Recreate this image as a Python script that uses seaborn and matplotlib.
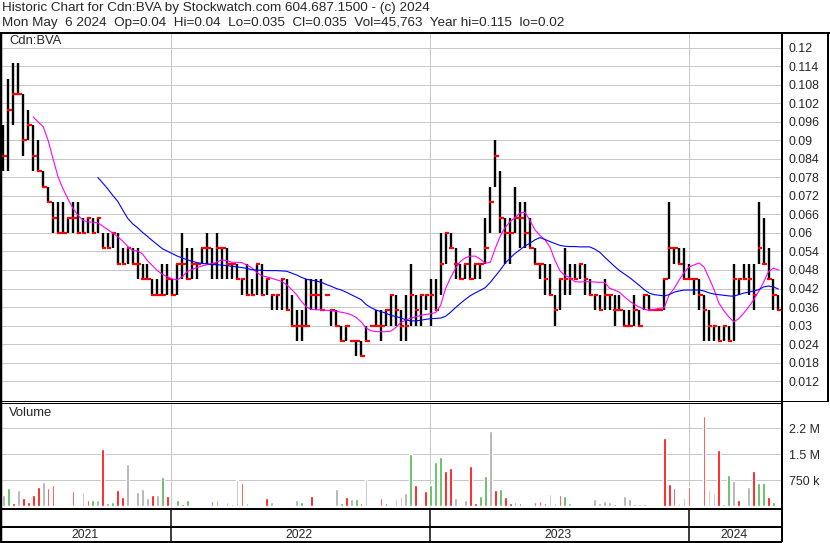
import numpy as np
import pandas as pd
import matplotlib
matplotlib.use("Agg")
import matplotlib.pyplot as plt
import matplotlib.dates as mdates
import seaborn as sns

# ---------------- data (weekly readings from the chart) ----------------
first_week = "2021-05-10"
n_weeks = 157

highs = [.095, .11, .115, .115, .105, .1, .095, .09, .08, .075,
         .07, .07, .07, .065, .07, .07, .065, .065, .065, .065,
         .06, .06, .06, .06, .055, .055, .055, .055, .05, .05,
         .045, .045, .05, .05, .045, .05, .06, .055, .055, .05,
         .055, .06, .055, .06, .055, .055, .05, .05, .045, .05,
         .045, .05, .05, .045, .04, .04, .045, .045, .04, .035,
         .035, .045, .045, .045, .045, .04, .035, .035, .03, .03,
         .025, .025, .025, .03, .03, .035, .035, .035, .04, .04,
         .035, .04, .05, .04, .04, .04, .045, .045, .06, .06,
         .06, .055, .05, .05, .055, .05, .05, .065, .075, .09,
         .08, .065, .065, .075, .07, .07, .065, .055, .05, .05,
         .05, .04, .045, .055, .05, .05, .05, .05, .045, .04,
         .04, .045, .04, .04, .04, .035, .035, .04, .035, .04,
         .04, .035, .035, .045, .07, .055, .055, .055, .05, .045,
         .045, .04, .035, .03, .03, .03, .03, .05, .045, .05,
         .05, .05, .07, .065, .055, .045, .04]
lows = [.08, .08, .095, .105, .085, .09, .08, .08, .075, .07,
        .06, .06, .06, .06, .06, .06, .06, .06, .06, .06,
        .055, .055, .055, .05, .05, .05, .05, .045, .045, .045,
        .04, .04, .04, .04, .04, .04, .045, .045, .045, .045,
        .05, .05, .045, .045, .045, .045, .045, .045, .04, .04,
        .04, .04, .04, .04, .035, .035, .035, .035, .03, .025,
        .025, .03, .035, .035, .035, .04, .03, .03, .025, .025,
        .025, .02, .02, .025, .03, .03, .025, .03, .03, .03,
        .025, .025, .03, .03, .03, .035, .03, .035, .04, .05,
        .055, .045, .045, .045, .045, .045, .045, .05, .06, .075,
        .06, .05, .05, .06, .055, .055, .055, .05, .045, .04,
        .04, .03, .035, .04, .04, .045, .045, .04, .04, .035,
        .035, .035, .035, .03, .035, .03, .03, .03, .03, .035,
        .035, .035, .035, .035, .045, .05, .05, .045, .045, .04,
        .035, .025, .025, .025, .025, .025, .025, .025, .04, .045,
        .04, .035, .05, .05, .045, .035, .035]
closes = [.085, .1, .105, .105, .09, .095, .085, .08, .075, .07,
          .065, .06, .06, .065, .065, .06, .06, .065, .06, .065,
          .055, .055, .06, .05, .05, .055, .05, .05, .045, .045,
          .04, .04, .04, .045, .04, .05, .05, .045, .05, .05,
          .055, .055, .05, .055, .055, .05, .05, .045, .045, .04,
          .04, .05, .04, .045, .04, .04, .045, .035, .03, .03,
          .03, .03, .04, .04, .035, .04, .035, .03, .025, .03,
          .025, .025, .02, .025, .03, .03, .03, .035, .04, .035,
          .03, .03, .04, .035, .04, .04, .04, .035, .05, .06,
          .055, .05, .045, .05, .045, .05, .05, .055, .07, .085,
          .065, .06, .06, .065, .065, .06, .055, .05, .05, .045,
          .04, .035, .045, .045, .045, .045, .05, .045, .04, .04,
          .035, .04, .04, .035, .035, .03, .03, .035, .03, .04,
          .035, .035, .035, .045, .055, .055, .05, .045, .045, .045,
          .04, .035, .03, .03, .025, .03, .025, .045, .045, .045,
          .045, .04, .055, .05, .045, .04, .035]

ma_short = [None] * 6 + [
    .0976, .096, .0945, .09, .084, .0782, .0743, .071, .068, .0658,
    .0641, .0636, .0635, .0633, .0622, .0611, .06, .0588, .0574, .0557,
    .0543, .0542, .0532, .051, .0494, .0478, .0466, .0458, .0451, .0448,
    .0458, .0475, .0482, .0488, .0493, .0497, .05, .0506, .0513, .051,
    .0505, .0505, .0504, .0496, .0487, .0472, .0461, .0458, .0453, .0448,
    .0443, .0432, .0417, .04, .0378, .036, .0352, .0351, .0351, .0349,
    .0348, .0346, .0343, .034, .0335, .0326, .0312, .0292, .0283, .028,
    .028, .028, .0282, .0294, .031, .0318, .0324, .0328, .0333, .0336,
    .0338, .0342, .0365, .042, .0455, .0485, .0508, .052, .0525, .0525,
    .0515, .0502, .0505, .055, .059, .0618, .0637, .065, .0665, .0667,
    .064, .061, .0592, .0578, .0555, .0512, .0478, .0462, .0456, .0442,
    .0441, .0442, .0442, .0441, .044, .044, .0421, .0415, .0408, .0393,
    .038, .0368, .036, .0353, .0348, .0352, .0356, .0357, .04, .042,
    .0447, .0472, .049, .0496, .0503, .049, .0455, .0418, .0373, .0348,
    .0328, .0312, .0322, .034, .036, .0383, .041, .044, .0475, .0486,
    .048]
ma_long = [None] * 19 + [
    .078, .0762, .0743, .0722, .0703, .0675, .0648, .063, .0617, .0602,
    .0589, .0575, .0562, .0549, .0541, .0533, .0525, .0519, .0513, .0508,
    .0504, .0501, .05, .0498, .0497, .0496, .0494, .0492, .049, .0488,
    .0485, .0481, .048, .0479, .0478, .0478, .0478, .0477, .0476, .047,
    .0464, .0456, .045, .0447, .0444, .044, .0433, .0427, .042, .0415,
    .0408, .04, .0392, .0384, .0368, .0358, .035, .0345, .034, .0333,
    .0329, .0325, .0318, .0315, .0315, .0317, .032, .0322, .0323, .0324,
    .033, .0343, .0358, .0372, .0385, .0397, .0406, .0414, .0423, .044,
    .046, .048, .0502, .0519, .0534, .0546, .0558, .0567, .0578, .0585,
    .0579, .0572, .0566, .056, .0557, .0556, .0556, .0555, .0555, .0555,
    .0548, .0538, .0522, .0507, .0492, .0478, .0467, .0456, .0443, .043,
    .0416, .0405, .04, .0398, .0396, .04, .0408, .0412, .0415, .0415,
    .0415, .0415, .0412, .0406, .0402, .04, .0398, .0396, .0395, .04,
    .0405, .0408, .0412, .0416, .0425, .0428, .0425, .0418]

# weekly peak daily volume (thousands) and day direction: r=down, g=up, n=unchanged
volume_k = [327, 520, 90, 470, 230, 135, 327, 548, 700, 520,
            615, 40, 20, 20, 450, 10, 413, 183, 183, 183,
            1650, 86, 135, 470, 280, 1220, 10, 420, 490, 250,
            327, 327, 850, 300, 10, 183, 60, 183, 20, 20,
            20, 20, 160, 183, 20, 135, 70, 750, 663, 86,
            20, 40, 20, 240, 135, 10, 10, 10, 10, 183,
            135, 20, 300, 10, 10, 10, 10, 500, 86, 270,
            200, 212, 86, 790, 10, 10, 240, 86, 10, 200,
            300, 395, 1510, 615, 10, 442, 615, 1290, 1410, 1030,
            1100, 230, 10, 183, 1160, 86, 300, 875, 2170, 470,
            490, 260, 86, 135, 86, 10, 10, 135, 160, 105,
            346, 86, 327, 308, 86, 10, 10, 10, 10, 212,
            86, 150, 135, 58, 10, 290, 212, 67, 58, 58,
            10, 10, 10, 1960, 645, 520, 86, 230, 548, 40,
            40, 2600, 470, 375, 1620, 67, 900, 740, 183, 40,
            567, 1020, 673, 663, 280, 135, 46]
volume_dir = list("ngrnrrrrnr" "rrgnrnnrgn" "rggrrnrnnn" "rngrngrgrr"
                  "ngrgnnrnrg" "rrnrnngnrn" "grrgrgrngr" "ngrnrrrrnn"
                  "nngrgrgggr" "rnrnrrggnr" "grrgrrnrrr" "nnrgnngrnn"
                  "nnngnnngng" "nrnrrrnnrg" "rrnnrggnrn" "nrggrgr")

price_ticks = [0.012, 0.018, 0.024, 0.03, 0.036, 0.042, 0.048, 0.054, 0.06,
               0.066, 0.072, 0.078, 0.084, 0.09, 0.096, 0.102, 0.108, 0.114, 0.12]
price_tick_labels = ["0.012", "0.018", "0.024", "0.03", "0.036", "0.042", "0.048",
                     "0.054", "0.06", "0.066", "0.072", "0.078", "0.084", "0.09",
                     "0.096", "0.102", "0.108", "0.114", "0.12"]
vol_ticks = [750000, 1500000, 2250000]
vol_tick_labels = ["750 k", "1.5 M", "2.2 M"]
years = ["2021", "2022", "2023", "2024"]
year_starts = ["2022-01-01", "2023-01-01", "2024-01-01"]

title1 = "Historic Chart for Cdn:BVA by Stockwatch.com 604.687.1500 - (c) 2024"
title2 = ("Mon May  6 2024  Op=0.04  Hi=0.04  Lo=0.035  Cl=0.035  Vol=45,763  "
          "Year hi=0.115  lo=0.02")

# ---------------- build frames ----------------
dates = pd.date_range(first_week, periods=n_weeks, freq="7D")
df = pd.DataFrame({"date": dates, "high": highs, "low": lows, "close": closes,
                   "ma_s": np.array([np.nan if v is None else v for v in ma_short]),
                   "ma_l": np.array([np.nan if v is None else v for v in ma_long]),
                   "vol": np.array(volume_k) * 1000.0, "dir": volume_dir})

sns.set_style("white")
plt.rcParams["font.family"] = ["Liberation Sans", "DejaVu Sans"]

W, H = 830, 543
fig = plt.figure(figsize=(W / 100, H / 100), dpi=100)
fig.patch.set_facecolor("white")
PX = 0.72  # points per pixel


def ax_px(x0, y0, x1, y1):
    return fig.add_axes([x0 / W, 1 - y1 / H, (x1 - x0) / W, (y1 - y0) / H])


def fline(xs, ys, lw=1.0, color="black"):
    fig.add_artist(plt.Line2D([x / W for x in xs], [1 - y / H for y in ys],
                              transform=fig.transFigure, color=color,
                              lw=lw * PX, solid_capstyle="butt"))


xlim = (mdates.date2num(pd.Timestamp("2021-05-08")),
        mdates.date2num(pd.Timestamp("2024-05-11")))
xnum = mdates.date2num(df["date"])
ybound = [mdates.date2num(pd.Timestamp(d)) for d in year_starts]
grid_c = "#c8c8c8"

# price panel
ax = ax_px(2, 33, 782, 400)
ax.set_xlim(*xlim)
ax.set_ylim(0.00584, 0.12486)
ax.set_yticks(price_ticks)
ax.set_yticklabels(price_tick_labels)
ax.yaxis.tick_right()
ax.tick_params(axis="y", length=0, pad=5, labelsize=8.9)
ax.set_xticks(ybound)
ax.tick_params(axis="x", length=0, labelbottom=False)
ax.grid(True, color=grid_c, lw=1.0 * PX)
for s in ax.spines.values():
    s.set_visible(False)

ax.vlines(xnum, df["low"], df["high"], colors="black", lw=1.7, zorder=3)
ax.hlines(df["close"], xnum - 1.5, xnum + 5.0, colors="red", lw=1.6, zorder=4)
sns.lineplot(x=xnum, y=df["ma_s"], ax=ax, color="#ff00ff", lw=0.8, zorder=5)
sns.lineplot(x=xnum, y=df["ma_l"], ax=ax, color="#0000ff", lw=0.8, zorder=5)
ax.set_xlim(*xlim)
ax.set_ylim(0.00584, 0.12486)
ax.set_xlabel("")
ax.set_ylabel("")
ax.text(7 / 780, 1 - 8 / 367, "Cdn:BVA", transform=ax.transAxes, fontsize=9.4,
        va="center", ha="left")

# volume panel
vax = ax_px(2, 402, 782, 509)
vax.set_xlim(*xlim)
vax.set_ylim(-78000, 3009000)
vax.set_yticks(vol_ticks)
vax.set_yticklabels(vol_tick_labels)
vax.yaxis.tick_right()
vax.tick_params(axis="y", length=0, pad=5, labelsize=8.9)
vax.set_xticks(ybound)
vax.tick_params(axis="x", length=0, labelbottom=False)
vax.grid(True, color=grid_c, lw=1.0 * PX)
for s in vax.spines.values():
    s.set_visible(False)
cmap = {"r": "#ff0000", "g": "#4cb84c", "n": "#aaaaaa"}
vax.bar(xnum, df["vol"], width=3.8, bottom=0,
        color=[cmap[d] for d in df["dir"]], zorder=3)
vax.text(7 / 780, 1 - 11 / 107, "Volume", transform=vax.transAxes, fontsize=9.4,
         va="center", ha="left")

# empty strip and year strip
sax = ax_px(2, 509, 782, 527)
yax = ax_px(2, 527, 782, 542)
for a in (sax, yax):
    a.set_xlim(*xlim)
    a.set_ylim(0, 1)
    a.axis("off")
    for b in ybound:
        a.axvline(b, color="black", lw=1.5 * PX)
edges = [xlim[0]] + ybound + [xlim[1]]
for i, yr in enumerate(years):
    yax.text((edges[i] + edges[i + 1]) / 2 - 2, 0.45, yr, fontsize=8.8,
             ha="center", va="center")

# frame lines
fline([0, 830], [33, 33], lw=2)
fline([1, 1], [33, 542], lw=2.5)
fline([782, 782], [33, 542], lw=2)
fline([828, 828], [33, 402], lw=2)
fline([0, 828], [400.5, 400.5], lw=1)
fline([0, 782], [402.5, 402.5], lw=1)
fline([0, 782], [509, 509], lw=2)
fline([0, 782], [527, 527], lw=2)
fline([0, 782], [541.5, 541.5], lw=2)

fig.text(2 / W, 1 - 8.5 / H, title1, fontsize=9.7, va="center", ha="left")
fig.text(2 / W, 1 - 23 / H, title2, fontsize=9.7, va="center", ha="left")

fig.savefig("out.png", dpi=100, facecolor="white")
